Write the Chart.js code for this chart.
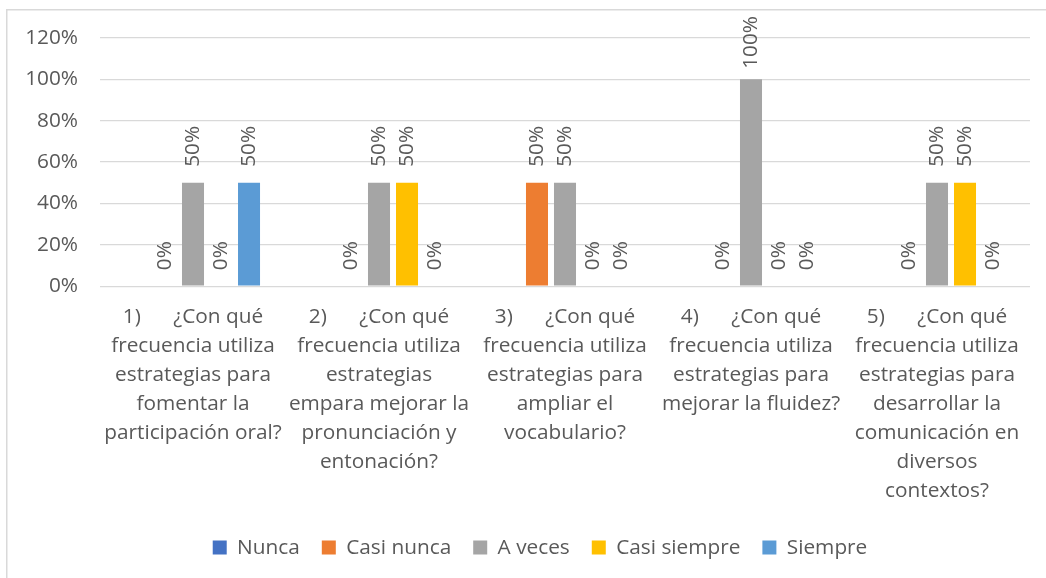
<!DOCTYPE html>
<html>
<head>
<meta charset="utf-8">
<script src="https://cdn.jsdelivr.net/npm/chart.js@4"></script>
<style>
  html, body { margin: 0; padding: 0; background: #ffffff; }
  #wrap { position: relative; width: 1046px; height: 578px; }
</style>
</head>
<body>
<div id="wrap"><canvas id="c" width="1046" height="578"></canvas></div>
<script>
const categories = [
  ["1)      ¿Con qué", "frecuencia utiliza", "estrategias para", "fomentar la", "participación oral?"],
  ["2)      ¿Con qué", "frecuencia utiliza", "estrategias", "empara mejorar la", "pronunciación y", "entonación?"],
  ["3)      ¿Con qué", "frecuencia utiliza", "estrategias para", "ampliar el", "vocabulario?"],
  ["4)      ¿Con qué", "frecuencia utiliza", "estrategias para", "mejorar la fluidez?"],
  ["5)      ¿Con qué", "frecuencia utiliza", "estrategias para", "desarrollar la", "comunicación en", "diversos", "contextos?"]
];
const seriesNames = ["Nunca", "Casi nunca", "A veces", "Casi siempre", "Siempre"];
const nunca       = [null, null, null, null, null];
const casiNunca   = [0, 0, 50, 0, 0];
const aVeces      = [50, 50, 50, 100, 50];
const casiSiempre = [0, 50, 0, 0, 50];
const siempre     = [50, 0, 0, 0, 0];
const seriesColors = ["#4472C4", "#ED7D31", "#A5A5A5", "#FFC000", "#5B9BD5"];
const yTicks = [0, 20, 40, 60, 80, 100, 120];

const FONT = "'Open Sans', Lato, sans-serif";
const TXT = "#595959";
const FS = 20.8;

const seriesData = [nunca, casiNunca, aVeces, casiSiempre, siempre];

const borderPlugin = {
  id: 'frame',
  beforeDraw(chart) {
    const ctx = chart.ctx;
    ctx.save();
    ctx.fillStyle = '#ffffff';
    ctx.fillRect(0, 0, chart.width, chart.height);
    ctx.strokeStyle = '#D9D9D9';
    ctx.lineWidth = 1.5;
    ctx.beginPath();
    ctx.moveTo(6.75, chart.height);
    ctx.lineTo(6.75, 9.75);
    ctx.lineTo(chart.width, 9.75);
    ctx.stroke();
    ctx.restore();
  }
};

const legendShift = {
  id: 'legendShift',
  afterLayout(chart) {
    if (chart.legend) {
      chart.legend.left += 20;
      chart.legend.right += 20;
    }
  }
};

const labelPlugin = {
  id: 'vlabels',
  afterDatasetsDraw(chart) {
    const ctx = chart.ctx;
    ctx.save();
    ctx.font = FS + "px " + FONT;
    ctx.fillStyle = TXT;
    ctx.textAlign = 'left';
    ctx.textBaseline = 'middle';
    chart.data.datasets.forEach((ds, di) => {
      const meta = chart.getDatasetMeta(di);
      meta.data.forEach((el, i) => {
        const v = ds.data[i];
        if (v === null || v === undefined) return;
        const txt = v + '%';
        const w = ctx.measureText(txt).width;
        let start = el.y - 16;
        if (start - w < 16) start = 16 + w;
        ctx.save();
        ctx.translate(el.x, start);
        ctx.rotate(-Math.PI / 2);
        ctx.fillText(txt, 0, 0);
        ctx.restore();
      });
    });
    ctx.restore();
  }
};

new Chart(document.getElementById('c'), {
  type: 'bar',
  data: {
    labels: categories,
    datasets: seriesNames.map((n, i) => ({
      label: n,
      data: seriesData[i],
      backgroundColor: seriesColors[i],
      borderWidth: 0,
      categoryPercentage: 0.753,
      barPercentage: 0.786
    }))
  },
  options: {
    responsive: false,
    animation: false,
    devicePixelRatio: 1,
    layout: { padding: { left: 10, right: 16, top: 38, bottom: 10 } },
    plugins: {
      legend: {
        position: 'bottom',
        labels: {
          font: { family: FONT, size: FS },
          color: TXT,
          boxWidth: 14,
          boxHeight: 14,
          padding: 22
        }
      },
      tooltip: { enabled: false }
    },
    scales: {
      x: {
        grid: { display: false, drawTicks: false },
        border: { display: false },
        ticks: {
          font: { family: FONT, size: FS, lineHeight: 1.394 },
          color: TXT,
          maxRotation: 0,
          autoSkip: false,
          padding: 16
        },
        afterFit(scale) { scale.height = 229; }
      },
      y: {
        min: 0, max: 120,
        afterBuildTicks(scale) { scale.ticks = yTicks.map(v => ({ value: v })); },
        grid: { color: '#D9D9D9', lineWidth: 1.3, drawTicks: false },
        border: { display: false },
        ticks: {
          font: { family: FONT, size: FS },
          color: TXT,
          padding: 22,
          callback: v => v + '%'
        },
        afterFit(scale) { scale.width = 90; }
      }
    }
  },
  plugins: [borderPlugin, legendShift, labelPlugin]
});
</script>
</body>
</html>
